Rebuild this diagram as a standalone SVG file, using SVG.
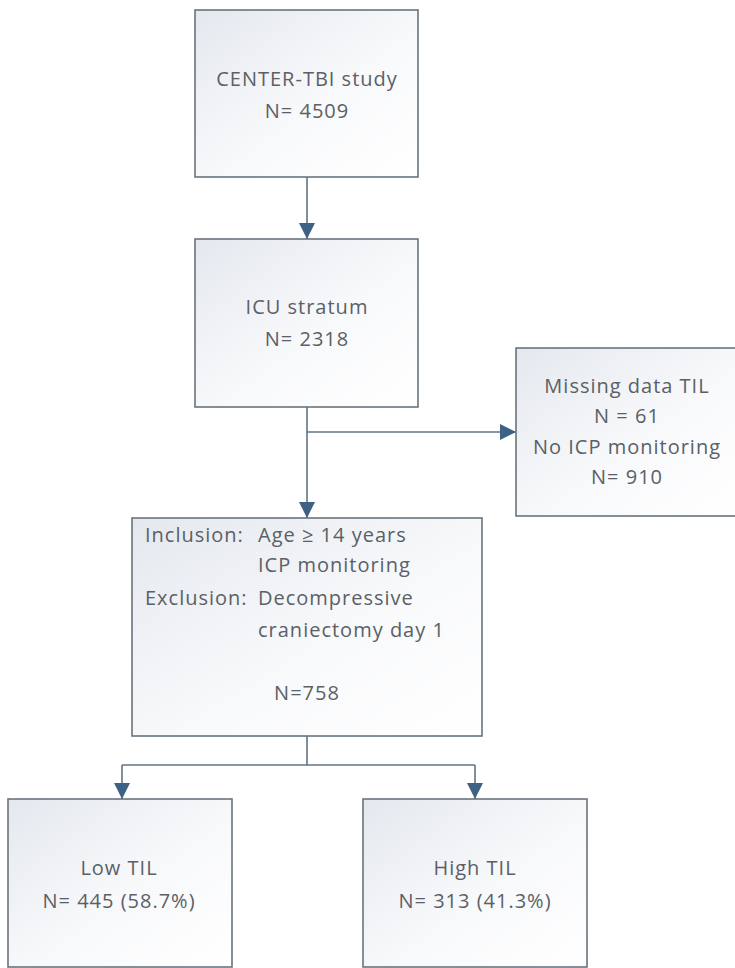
<svg xmlns="http://www.w3.org/2000/svg" width="735" height="968" viewBox="0 0 735 968">
  <defs>
    <linearGradient id="boxfill" x1="0" y1="0" x2="1" y2="1">
      <stop offset="0" stop-color="#e4e8ee"/>
      <stop offset="0.55" stop-color="#f8f9fb"/>
      <stop offset="1" stop-color="#ffffff"/>
    </linearGradient>
    <marker id="arrow" viewBox="0 0 16 16" refX="16" refY="8" markerWidth="16" markerHeight="16" markerUnits="userSpaceOnUse" orient="auto">
      <path d="M0,0 L16,8 L0,16 Z" fill="#3f6284"/>
    </marker>
    <style>
      .box { fill: url(#boxfill); stroke: #6a737c; stroke-width: 1.6; }
      .lbl { font-family: "Open Sans", "Liberation Sans", sans-serif; font-size: 20px; letter-spacing: 1px; fill: #5b6066; }
      .mid { text-anchor: middle; }
      .conn { fill: none; stroke: #637384; stroke-width: 1.6; }
    </style>
  </defs>
  <rect width="735" height="968" fill="#ffffff"/>

  <g id="connectors">
    <path class="conn" d="M307,177 V239" marker-end="url(#arrow)"/>
    <path class="conn" d="M307,407 V518" marker-end="url(#arrow)"/>
    <path class="conn" d="M307,432 H516" marker-end="url(#arrow)"/>
    <path class="conn" d="M307,736 V765"/>
    <path class="conn" d="M122,765 H475"/>
    <path class="conn" d="M122,765 V799" marker-end="url(#arrow)"/>
    <path class="conn" d="M475,765 V799" marker-end="url(#arrow)"/>
  </g>

  <g id="center-tbi">
    <rect class="box" x="195" y="10" width="223" height="167"/>
    <text class="lbl mid" x="307" y="86">CENTER-TBI study</text>
    <text class="lbl mid" x="307" y="118">N= 4509</text>
  </g>

  <g id="icu-stratum">
    <rect class="box" x="195" y="239" width="223" height="168"/>
    <text class="lbl mid" x="307" y="314">ICU stratum</text>
    <text class="lbl mid" x="307" y="346">N= 2318</text>
  </g>

  <g id="excluded">
    <rect class="box" x="516" y="348" width="222" height="168"/>
    <text class="lbl mid" x="627" y="393">Missing data TIL</text>
    <text class="lbl mid" x="627" y="423">N = 61</text>
    <text class="lbl mid" x="627" y="454">No ICP monitoring</text>
    <text class="lbl mid" x="627" y="484">N= 910</text>
  </g>

  <g id="criteria">
    <rect class="box" x="132" y="518" width="350" height="218"/>
    <text class="lbl" x="145" y="542">Inclusion:</text>
    <text class="lbl" x="258" y="542">Age ≥ 14 years</text>
    <text class="lbl" x="258" y="572">ICP monitoring</text>
    <text class="lbl" x="145" y="605">Exclusion:</text>
    <text class="lbl" x="258" y="605">Decompressive</text>
    <text class="lbl" x="258" y="637">craniectomy day 1</text>
    <text class="lbl mid" x="307" y="700">N=758</text>
  </g>

  <g id="low-til">
    <rect class="box" x="8" y="799" width="224" height="168"/>
    <text class="lbl mid" x="119" y="875">Low TIL</text>
    <text class="lbl mid" x="119" y="908">N= 445 (58.7%)</text>
  </g>

  <g id="high-til">
    <rect class="box" x="363" y="799" width="224" height="168"/>
    <text class="lbl mid" x="475" y="875">High TIL</text>
    <text class="lbl mid" x="475" y="908">N= 313 (41.3%)</text>
  </g>
</svg>
